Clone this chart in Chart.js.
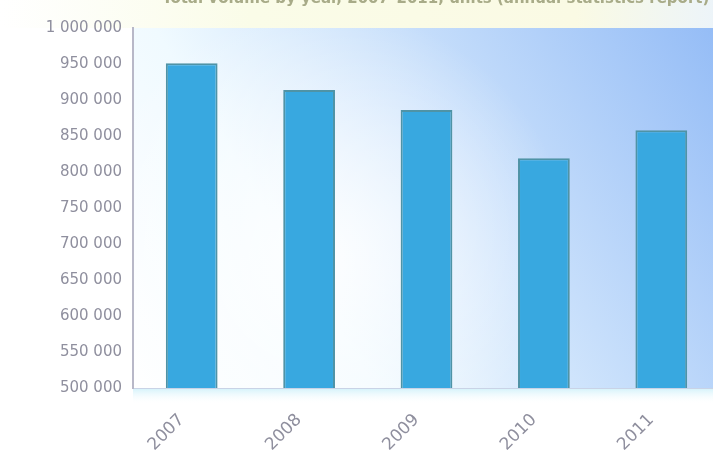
<!DOCTYPE html>
<html>
<head>
<meta charset="utf-8">
<script src="https://cdn.jsdelivr.net/npm/chart.js@4/dist/chart.umd.min.js"></script>
<style>
  html, body { margin: 0; padding: 0; width: 713px; height: 453px; overflow: hidden; background: #ffffff; }
  #wrap { position: absolute; left: 0; top: -12px; width: 720px; height: 480px; }
</style>
</head>
<body>
<div id="wrap"><canvas id="chart"></canvas></div>
<script>
// Yearly totals shown as columns
const years = ['2007', '2008', '2009', '2010', '2011'];
const totals = [951000, 914000, 886000, 819000, 858000];
const axisMin = 500000;
const axisMax = 1000000;
const axisStep = 50000;
const chartTitle = 'Total volume by year, 2007–2011, units (annual statistics report) |';

function formatThousands(v) {
  return String(v).replace(/\B(?=(\d{3})+(?!\d))/g, ' ');
}

// Soft sky gradient behind the plot area and a pale band around the title
const backdrop = {
  id: 'backdrop',
  beforeDraw(chart) {
    const { ctx, chartArea: a, width, height } = chart;
    ctx.save();
    ctx.fillStyle = '#ffffff';
    ctx.fillRect(0, 0, width, height);
    const top = ctx.createLinearGradient(0, 0, width, 0);
    top.addColorStop(0, 'rgba(255,255,255,1)');
    top.addColorStop(0.35, 'rgba(250,252,232,1)');
    top.addColorStop(0.8, 'rgba(250,250,228,1)');
    top.addColorStop(1, 'rgba(236,244,250,1)');
    ctx.fillStyle = top;
    ctx.fillRect(0, 0, width, a.top);

    const g = ctx.createLinearGradient(a.left, a.bottom, a.right, a.top);
    g.addColorStop(0, '#ffffff');
    g.addColorStop(0.3, '#f0faff');
    g.addColorStop(0.62, '#c6defb');
    g.addColorStop(1, '#94bcf6');
    ctx.fillStyle = g;
    ctx.fillRect(a.left, a.top, a.right - a.left, a.bottom - a.top);

    const glow = ctx.createRadialGradient(a.left + 190, a.top + 230, 10, a.left + 190, a.top + 230, 250);
    glow.addColorStop(0, 'rgba(255,255,255,0.85)');
    glow.addColorStop(1, 'rgba(255,255,255,0)');
    ctx.fillStyle = glow;
    ctx.fillRect(a.left, a.top, a.right - a.left, a.bottom - a.top);

    const band = ctx.createLinearGradient(0, a.bottom, 0, a.bottom + 16);
    band.addColorStop(0, 'rgba(205,240,250,0.9)');
    band.addColorStop(1, 'rgba(255,255,255,0)');
    ctx.fillStyle = band;
    ctx.fillRect(a.left, a.bottom, a.right - a.left, 16);
    ctx.restore();
  }
};

new Chart(document.getElementById('chart'), {
  type: 'bar',
  data: {
    labels: years,
    datasets: [{
      data: totals,
      backgroundColor: '#38a8e0',
      borderColor: '#4f93a6',
      borderWidth: 2,
      borderSkipped: 'bottom',
      barPercentage: 0.9,
      categoryPercentage: 0.49
    }]
  },
  options: {
    responsive: true,
    maintainAspectRatio: false,
    animation: false,
    layout: { padding: { top: 0, right: 0, bottom: 0, left: 0 } },
    plugins: {
      legend: { display: false },
      tooltip: { enabled: false },
      title: {
        display: true,
        align: 'end',
        text: chartTitle,
        color: '#a8ab88',
        font: { family: 'DejaVu Sans', size: 15 },
        padding: { top: 2, bottom: 20 }
      }
    },
    scales: {
      x: {
        grid: { display: false, drawTicks: false },
        border: { display: true, color: '#c9d3e6', width: 1 },
        ticks: {
          color: '#8f8f9e',
          font: { family: 'DejaVu Sans', size: 17 },
          maxRotation: 45,
          minRotation: 45,
          padding: 22,
          labelOffset: -10
        },
        afterFit(scale) { scale.height = 80; }
      },
      y: {
        min: axisMin,
        max: axisMax,
        grid: { display: false, drawTicks: true, tickLength: 5, color: '#b8b8c4' },
        border: { display: true, color: '#b8b8c8', width: 2 },
        ticks: {
          stepSize: axisStep,
          color: '#8f8f9e',
          font: { family: 'DejaVu Sans', size: 15 },
          padding: 6,
          callback: (v) => formatThousands(v)
        },
        afterFit(scale) { scale.width = 133; }
      }
    }
  },
  plugins: [backdrop]
});
</script>
</body>
</html>
